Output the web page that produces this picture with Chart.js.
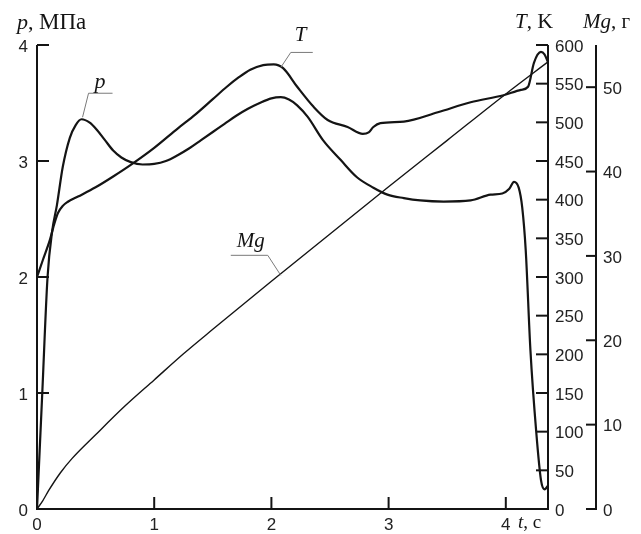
<!DOCTYPE html>
<html>
<head>
<meta charset="utf-8">
<script src="https://cdn.jsdelivr.net/npm/chart.js@4.4.0/dist/chart.umd.min.js"></script>
<style>
  html, body { margin: 0; padding: 0; background: #fff; }
  #wrap { width: 641px; height: 534px; }
</style>
</head>
<body>
<div id="wrap"><canvas id="chart" width="641" height="534"></canvas></div>
<script>
// tick labels
const xTicks = [0, 1, 2, 3, 4];
const pTicks = [0, 1, 2, 3, 4];
const TTicks = [0, 50, 100, 150, 200, 250, 300, 350, 400, 450, 500, 550, 600];
const MgTicks = [0, 10, 20, 30, 40, 50];

// p, MPa (left axis)
const pTime = [0, 0.045, 0.09, 0.13, 0.17, 0.22, 0.28, 0.33, 0.38, 0.45, 0.51, 0.58, 0.65, 0.72, 0.8, 0.9, 1.0, 1.1, 1.2, 1.3, 1.4, 1.5, 1.6, 1.7, 1.8, 1.9, 2.0, 2.08, 2.15, 2.22, 2.31, 2.44, 2.59, 2.73, 2.87, 2.99, 3.13, 3.27, 3.47, 3.7, 3.87, 3.97, 4.03, 4.07, 4.11, 4.14, 4.17, 4.21, 4.26, 4.3, 4.33, 4.36];
const pVals = [0, 1.0, 2.0, 2.4, 2.62, 2.95, 3.2, 3.31, 3.36, 3.33, 3.27, 3.18, 3.09, 3.03, 2.99, 2.97, 2.975, 3.0, 3.05, 3.11, 3.18, 3.25, 3.32, 3.39, 3.45, 3.5, 3.54, 3.55, 3.53, 3.48, 3.38, 3.18, 3.01, 2.86, 2.77, 2.71, 2.68, 2.66, 2.65, 2.66, 2.71, 2.72, 2.76, 2.82, 2.77, 2.6, 2.23, 1.37, 0.66, 0.25, 0.17, 0.2];

// T, K (right axis)
const TTime = [0, 0.05, 0.11, 0.15, 0.18, 0.22, 0.26, 0.35, 0.5, 0.65, 0.8, 1.0, 1.2, 1.35, 1.5, 1.62, 1.72, 1.82, 1.93, 2.02, 2.1, 2.22, 2.36, 2.48, 2.65, 2.78, 2.83, 2.87, 2.93, 3.13, 3.42, 3.7, 3.98, 4.13, 4.19, 4.24, 4.3, 4.33, 4.36];
const TVals = [300, 322, 348, 370, 383, 392, 397, 404, 416, 430, 445, 467, 492, 510, 530, 546, 558, 568, 574, 575, 570, 546, 520, 503, 494, 485, 487, 494, 499, 501, 513, 526, 535, 542, 546, 577, 591, 588, 578];

// Mg, g (far right axis)
const MgTime = [0, 0.05, 0.1, 0.2, 0.3, 0.5, 0.75, 1.0, 1.25, 1.5, 2.0, 2.5, 3.0, 3.5, 4.0, 4.36];
const MgVals = [0, 1.0, 2.2, 4.3, 6.0, 8.8, 12.2, 15.3, 18.4, 21.3, 27.0, 32.6, 38.2, 43.7, 49.2, 53.0];

const tMax = 4.36;
const ink = '#141414';
const tickFont = { family: '"Liberation Sans", Arial, sans-serif', size: 17 };
const serif = '"Liberation Serif", "Times New Roman", serif';

const pts = (xs, ys) => xs.map((x, i) => ({ x, y: ys[i] }));
const fixTicks = list => scale => { scale.ticks = list.map(v => ({ value: v })); };

// axes, inward tick marks, titles and curve labels
const decor = {
  id: 'decor',
  afterDraw(chart) {
    const { ctx, scales } = chart;
    const x = scales.x, yp = scales.p, yT = scales.T, yM = scales.Mg;
    const top = yp.getPixelForValue(4), bot = yp.getPixelForValue(0);
    const L = x.getPixelForValue(0), R = x.getPixelForValue(tMax);
    const mgX = yM.left;
    ctx.save();
    ctx.strokeStyle = ink;
    ctx.lineWidth = 2;
    ctx.lineCap = 'butt';
    const seg = (x1, y1, x2, y2) => { ctx.beginPath(); ctx.moveTo(x1, y1); ctx.lineTo(x2, y2); ctx.stroke(); };
    seg(L, top, L, bot + 1);
    seg(L - 1, bot, R + 1, bot);
    seg(R, yT.getPixelForValue(600), R, bot + 1);
    seg(mgX, yM.top, mgX, bot + 1);
    pTicks.forEach(v => { const y = yp.getPixelForValue(v); seg(L, y, L + 12, y); });
    TTicks.forEach(v => { const y = yT.getPixelForValue(v); seg(R - 12, y, R, y); });
    MgTicks.forEach(v => { const y = yM.getPixelForValue(v); seg(mgX - 10, y, mgX, y); });
    xTicks.forEach(v => { const xx = x.getPixelForValue(v); seg(xx, bot, xx, bot - 12); });

    // titles
    ctx.fillStyle = ink;
    ctx.textBaseline = 'alphabetic';
    const runs = (list, x0, y0) => {
      let cx = x0;
      list.forEach(([txt, font]) => { ctx.font = font; ctx.fillText(txt, cx, y0); cx += ctx.measureText(txt).width; });
    };
    const it = s => 'italic ' + s + 'px ' + serif;
    const rm = s => s + 'px ' + serif;
    runs([['p', it(22)], [', ', rm(22)], ['МПа', rm(23)]], 17, 29);
    runs([['T', it(21)], [', ', rm(21)], ['K', rm(22)]], 515, 28);
    runs([['M', it(21)], ['g', it(21)], [', г', rm(21)]], 583, 28);
    runs([['t', it(19)], [', c', rm(19)]], 518, 528);

    // curve labels with leaders
    ctx.strokeStyle = '#7a7a7a';
    ctx.lineWidth = 1;
    const lead = (ax, ay, kx, ky, hx) => {
      ctx.beginPath(); ctx.moveTo(ax, ay); ctx.lineTo(kx, ky); ctx.lineTo(hx, ky); ctx.stroke();
    };
    const pa = { x: x.getPixelForValue(0.38), y: yp.getPixelForValue(3.36) };
    lead(pa.x + 1, pa.y - 2, pa.x + 7, pa.y - 26, pa.x + 31);
    runs([['p', it(22)]], pa.x + 13, pa.y - 31);
    const Ta = { x: x.getPixelForValue(2.08), y: yT.getPixelForValue(571) };
    lead(Ta.x, Ta.y, Ta.x + 10, Ta.y - 15, Ta.x + 32);
    runs([['T', it(21)]], Ta.x + 14, Ta.y - 26);
    const Ma = { x: x.getPixelForValue(2.08), y: yM.getPixelForValue(27.7) };
    lead(Ma.x, Ma.y, Ma.x - 13, Ma.y - 20, Ma.x - 50);
    runs([['M', it(21)], ['g', it(21)]], Ma.x - 44, Ma.y - 28);
    ctx.restore();
  }
};

const lineDs = (data, axis, width) => ({
  data, yAxisID: axis, borderColor: ink, borderWidth: width,
  pointRadius: 0, fill: false, cubicInterpolationMode: 'monotone'
});

new Chart(document.getElementById('chart'), {
  type: 'line',
  data: {
    datasets: [
      lineDs(pts(pTime, pVals), 'p', 2.2),
      lineDs(pts(TTime, TVals), 'T', 2.2),
      lineDs(pts(MgTime, MgVals), 'Mg', 1.4)
    ]
  },
  options: {
    responsive: false,
    animation: false,
    devicePixelRatio: 1,
    layout: { padding: { left: 0, right: 0, top: 45, bottom: 0 }, autoPadding: false },
    plugins: { legend: { display: false }, tooltip: { enabled: false } },
    scales: {
      x: {
        type: 'linear', position: 'bottom', min: 0, max: tMax,
        afterBuildTicks: fixTicks(xTicks),
        afterFit: s => { s.height = 25; },
        grid: { display: false, drawTicks: false }, border: { display: false },
        ticks: { padding: 6, font: tickFont, color: '#222', maxRotation: 0 }
      },
      p: {
        type: 'linear', position: 'left', min: 0, max: 4,
        afterBuildTicks: fixTicks(pTicks),
        afterFit: s => { s.width = 37; },
        grid: { display: false, drawTicks: false }, border: { display: false },
        ticks: { padding: 9, font: tickFont, color: '#222', labelOffset: 2 }
      },
      T: {
        type: 'linear', position: 'right', weight: 0, min: 0, max: 600,
        afterBuildTicks: fixTicks(TTicks),
        afterFit: s => { s.width = 48; },
        grid: { display: false, drawTicks: false }, border: { display: false },
        ticks: { padding: 7, font: tickFont, color: '#222', labelOffset: 2 }
      },
      Mg: {
        type: 'linear', position: 'right', weight: 1, min: 0, max: 55,
        afterBuildTicks: fixTicks(MgTicks),
        afterFit: s => { s.width = 45; },
        grid: { display: false, drawTicks: false }, border: { display: false },
        ticks: { padding: 7, font: tickFont, color: '#222', labelOffset: 2 }
      }
    }
  },
  plugins: [decor]
});
</script>
</body>
</html>
